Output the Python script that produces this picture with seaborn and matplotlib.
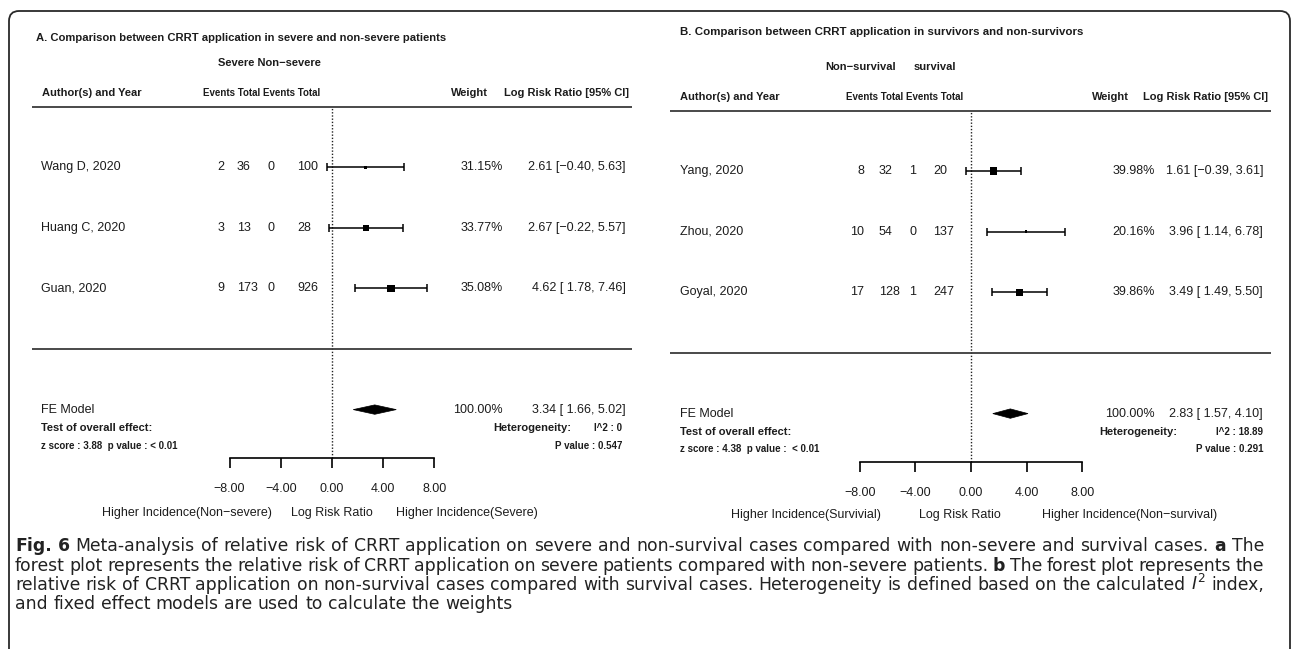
import numpy as np
import pandas as pd
import matplotlib
matplotlib.use("Agg")
import matplotlib.pyplot as plt
import seaborn as sns
from matplotlib.patches import FancyBboxPatch, Polygon

# ---------------- data ----------------
# Panel A: severe vs non-severe
studies_a = ["Wang D, 2020", "Huang C, 2020", "Guan, 2020"]
events_severe = [2, 3, 9]
total_severe = [36, 13, 173]
events_nonsevere = [0, 0, 0]
total_nonsevere = [100, 28, 926]
weight_a = [31.15, 33.77, 35.08]
lrr_a = [2.61, 2.67, 4.62]
lo_a = [-0.40, -0.22, 1.78]
hi_a = [5.63, 5.57, 7.46]
fe_a = [3.34, 1.66, 5.02]
z_a, p_a = "3.88", "< 0.01"
i2_a, hetp_a = "0", "0.547"

# Panel B: non-survivors vs survivors
studies_b = ["Yang, 2020", "Zhou, 2020", "Goyal, 2020"]
events_nonsurv = [8, 10, 17]
total_nonsurv = [32, 54, 128]
events_surv = [1, 0, 1]
total_surv = [20, 137, 247]
weight_b = [39.98, 20.16, 39.86]
lrr_b = [1.61, 3.96, 3.49]
lo_b = [-0.39, 1.14, 1.49]
hi_b = [3.61, 6.78, 5.50]
fe_b = [2.83, 1.57, 4.10]
z_b, p_b = "4.38", " < 0.01"
i2_b, hetp_b = "18.89", "0.291"

axis_ticks = [-8, -4, 0, 4, 8]

caption_lines = [
    "*Fig. *6 Meta-analysis of relative risk of CRRT application on severe and non-survival cases compared with non-severe and survival cases. *a The",
    "forest plot represents the relative risk of CRRT application on severe patients compared with non-severe patients. *b The forest plot represents the",
    "relative risk of CRRT application on non-survival cases compared with survival cases. Heterogeneity is defined based on the calculated $\\mathit{I}^{2}$ index,",
    "and fixed effect models are used to calculate the weights",
]

# ---------------- style ----------------
sns.set_theme(style="white")
plt.rcParams["font.family"] = ["Liberation Sans", "DejaVu Sans"]
plt.rcParams["mathtext.fontset"] = "dejavusans"

W, H = 1292, 649
ROW = 60.6
TXT = "#1c1c1c"
FS = 9.0
FS_SMALL = 7.0
CAP_FONT = "DejaVu Sans"

fig = plt.figure(figsize=(W / 100, H / 100), dpi=100)
fig.patch.set_facecolor("white")
renderer = fig.canvas.get_renderer()


def minus(s):
    return s.replace("-", "\u2212")


def ci_label(e, l, h):
    return minus(f"{e:.2f} [{l:5.2f}, {h:.2f}]")


def fit_text(ax, x, y, s, width_px, **kw):
    t = ax.text(x, y, s, fontsize=10, **kw)
    w = t.get_window_extent(renderer).width
    t.set_fontsize(10 * width_px / w)
    return t


layout_a = dict(left=0, zero=332, scale=12.8, sep=349,
                title=(36, 38, 410), groups=[("Severe Non\u2212severe", 269, 63)],
                hdr_y=93, author_x=42, events_c=262, weight_r=488, lrr_r=629,
                rule=(32, 632), name_x=41,
                cols=[(221, "center"), (237, "left"), (271, "center"), (297, "left")],
                wt_r=503, ci_r=626, test_y=428, z_y=446, het_l=493, het_r=622,
                axis_y=458, bottom_y=513, bottom_c=(187, 332, 467))

layout_b = dict(left=646, zero=971, scale=13.9, sep=353,
                title=(680, 32, 401), groups=[("Non\u2212survival", 861, 67), ("survival", 935, 67)],
                hdr_y=97, author_x=680, events_c=904.5, weight_r=1129, lrr_r=1268,
                rule=(670, 1271), name_x=680,
                cols=[(864, "right"), (879, "left"), (913, "center"), (933, "left")],
                wt_r=1155, ci_r=1263, test_y=432, z_y=449, het_l=1099, het_r=1263,
                axis_y=462, bottom_y=515, bottom_c=(806, 960, 1130))


def draw_panel(L, title, studies, cells, weights, est, lo, hi, fe, z, p, i2, hetp, bottom_labels):
    ax = fig.add_axes([L["left"] / W, 0, 646 / W, 1])
    X = lambda px: (px - L["zero"]) / L["scale"]
    Y = lambda py: (L["sep"] - py) / ROW

    k = len(studies)
    rows = np.arange(k, 0, -1)
    top_row, fe_row = k + 1, -1
    axis_row = Y(L["axis_y"])

    # study squares sized by weight
    df = pd.DataFrame({"est": est, "row": rows, "weight": weights})
    sns.scatterplot(data=df, x="est", y="row", size="weight", sizes=(3.6, 31.0),
                    marker="s", color="black", linewidth=0, legend=False, ax=ax, zorder=4)
    ax.errorbar(est, rows, xerr=[np.subtract(est, lo), np.subtract(hi, est)], fmt="none",
                ecolor="black", elinewidth=1.1, capsize=3.0, capthick=1.1, zorder=3)

    # pooled estimate diamond
    dh = 4.7 / ROW
    ax.add_patch(Polygon([[fe[1], fe_row], [fe[0], fe_row + dh], [fe[2], fe_row], [fe[0], fe_row - dh]],
                         closed=True, facecolor="black", edgecolor="black", lw=0.5, zorder=4))

    # reference line and rules
    ax.plot([0, 0], [axis_row, top_row], ls=(0, (1, 1.3)), lw=1.0, color="#222222", zorder=2)
    ax.hlines([top_row, 0], X(L["rule"][0]), X(L["rule"][1]), color="#3a3a3a", lw=1.3)

    ax.set_xlim(X(L["left"]), X(L["left"] + 646))
    ax.set_ylim(Y(H), Y(0))
    ax.set_xlabel("")
    ax.set_ylabel("")
    ax.patch.set_alpha(0)
    for s in ("left", "right", "top"):
        ax.spines[s].set_visible(False)
    sp = ax.spines["bottom"]
    sp.set_position(("data", axis_row))
    sp.set_bounds(axis_ticks[0], axis_ticks[-1])
    sp.set_color("black")
    sp.set_linewidth(1.2)
    ax.set_yticks([])
    ax.set_xticks(axis_ticks)
    ax.set_xticklabels([minus(f"{t:.2f}") for t in axis_ticks])
    ax.tick_params(axis="x", bottom=True, direction="out", length=7.2, width=1.2,
                   color="black", pad=11, labelsize=FS, labelcolor=TXT)

    # titles and headers
    tx, ty, tw = L["title"]
    fit_text(ax, X(tx), Y(ty), title, tw, ha="left", va="center", fontweight="bold", color=TXT)
    for s, cx, cy in L["groups"]:
        ax.text(X(cx), Y(cy), s, ha="center", va="center", fontsize=8, fontweight="bold", color=TXT)
    hy = Y(L["hdr_y"])
    ax.text(X(L["author_x"]), hy, "Author(s) and Year", ha="left", va="center",
            fontsize=8, fontweight="bold", color=TXT)
    ax.text(X(L["events_c"]), hy, "Events Total Events Total", ha="center", va="center",
            fontsize=7, fontweight="bold", color=TXT)
    ax.text(X(L["weight_r"]), hy, "Weight", ha="right", va="center",
            fontsize=8, fontweight="bold", color=TXT)
    ax.text(X(L["lrr_r"]), hy, "Log Risk Ratio [95% CI]", ha="right", va="center",
            fontsize=8, fontweight="bold", color=TXT)

    # study rows
    for i, r in enumerate(rows):
        ax.text(X(L["name_x"]), r, studies[i], ha="left", va="center", fontsize=FS, color=TXT)
        for (cx, al), col in zip(L["cols"], cells):
            ax.text(X(cx), r, str(col[i]), ha=al, va="center", fontsize=FS, color=TXT)
        ax.text(X(L["wt_r"]), r, f"{weights[i]:.2f}%", ha="right", va="center", fontsize=FS, color=TXT)
        ax.text(X(L["ci_r"]), r, ci_label(est[i], lo[i], hi[i]), ha="right", va="center",
                fontsize=FS, color=TXT)

    # pooled row and summary statistics
    ax.text(X(L["name_x"]), fe_row, "FE Model", ha="left", va="center", fontsize=FS, color=TXT)
    ax.text(X(L["wt_r"]), fe_row, f"{sum(weights):.2f}%", ha="right", va="center", fontsize=FS, color=TXT)
    ax.text(X(L["ci_r"]), fe_row, ci_label(*fe), ha="right", va="center", fontsize=FS, color=TXT)
    ax.text(X(L["name_x"]), Y(L["test_y"]), "Test of overall effect:", ha="left", va="center",
            fontsize=8, fontweight="bold", color=TXT)
    ax.text(X(L["name_x"]), Y(L["z_y"]), f"z score : {z}  p value : {p}", ha="left", va="center",
            fontsize=FS_SMALL, fontweight="bold", color=TXT)
    ax.text(X(L["het_l"]), Y(L["test_y"]), "Heterogeneity:", ha="left", va="center",
            fontsize=8, fontweight="bold", color=TXT)
    ax.text(X(L["het_r"]), Y(L["test_y"]), f"I^2 : {i2}", ha="right", va="center",
            fontsize=FS_SMALL, fontweight="bold", color=TXT)
    ax.text(X(L["het_r"]), Y(L["z_y"]), f"P value : {hetp}", ha="right", va="center",
            fontsize=FS_SMALL, fontweight="bold", color=TXT)

    by = Y(L["bottom_y"])
    for s, cx in zip(bottom_labels, L["bottom_c"]):
        ax.text(X(cx), by, s, ha="center", va="center", fontsize=FS, color=TXT)
    return ax


draw_panel(layout_a, "A. Comparison between CRRT application in severe and non-severe patients",
           studies_a, [events_severe, total_severe, events_nonsevere, total_nonsevere],
           weight_a, lrr_a, lo_a, hi_a, fe_a, z_a, p_a, i2_a, hetp_a,
           ["Higher Incidence(Non\u2212severe)", "Log Risk Ratio", "Higher Incidence(Severe)"])
draw_panel(layout_b, "B. Comparison between CRRT application in survivors and non-survivors",
           studies_b, [events_nonsurv, total_nonsurv, events_surv, total_surv],
           weight_b, lrr_b, lo_b, hi_b, fe_b, z_b, p_b, i2_b, hetp_b,
           ["Higher Incidence(Survivial)", "Log Risk Ratio", "Higher Incidence(Non\u2212survival)"])

# ---------------- frame ----------------
frame = FancyBboxPatch((0.09, -0.5), 12.81, 6.88, boxstyle="round,pad=0,rounding_size=0.1",
                       transform=fig.dpi_scale_trans, fill=False, edgecolor="#2a2a2a", lw=1.3)
fig.add_artist(frame)

# ---------------- caption (justified) ----------------
CAP_X0, CAP_X1 = 15, 1264
cap_baselines = [551, 571, 590, 609]


def cap_words(line, size):
    arts = []
    for w in line.split(" "):
        bold = w.startswith("*")
        w = w.lstrip("*")
        t = fig.text(0, 0, w, fontsize=size, family=CAP_FONT, color="#222222",
                     fontweight="bold" if bold else "normal", va="baseline", ha="left")
        arts.append(t)
    return arts


def space_width(size):
    a = fig.text(0, 0, "a a", fontsize=size, family=CAP_FONT)
    b = fig.text(0, 0, "aa", fontsize=size, family=CAP_FONT)
    sw = a.get_window_extent(renderer).width - b.get_window_extent(renderer).width
    a.remove(); b.remove()
    return sw


# choose size so the first line's natural width nearly fills the measure
probe = cap_words(caption_lines[0], 10)
nat = sum(t.get_window_extent(renderer).width for t in probe) + space_width(10) * (len(probe) - 1)
for t in probe:
    t.remove()
cap_size = 10 * (CAP_X1 - CAP_X0 - 10) / nat
sw = space_width(cap_size)

for li, (line, yb) in enumerate(zip(caption_lines, cap_baselines)):
    arts = cap_words(line, cap_size)
    widths = [t.get_window_extent(renderer).width for t in arts]
    if li < len(caption_lines) - 1:
        gap = (CAP_X1 - CAP_X0 - sum(widths)) / (len(arts) - 1)
    else:
        gap = sw
    x = CAP_X0
    for t, w in zip(arts, widths):
        t.set_position((x / W, 1 - yb / H))
        x += w + gap

fig.savefig("out.png", dpi=100, facecolor="white")
